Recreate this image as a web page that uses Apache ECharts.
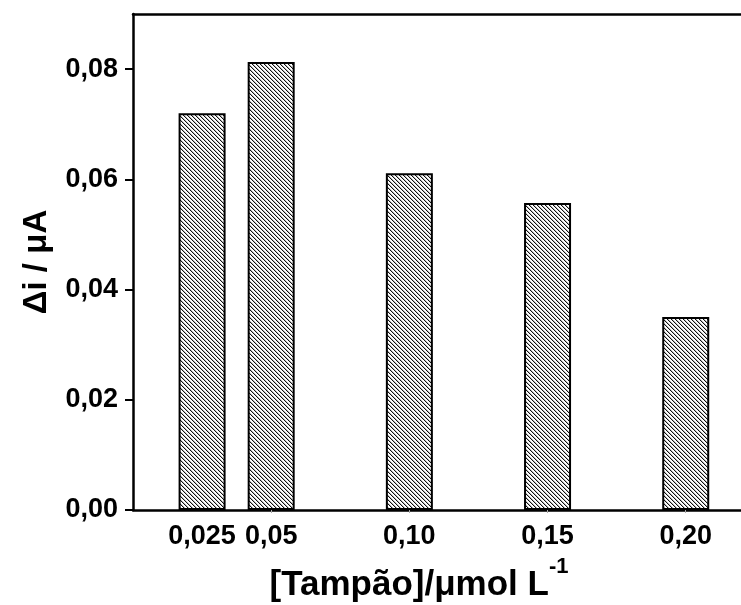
<!DOCTYPE html>
<html>
<head>
<meta charset="utf-8">
<script src="https://cdn.jsdelivr.net/npm/echarts@6/dist/echarts.min.js"></script>
<style>
  html, body { margin: 0; padding: 0; background: #fff; }
  #chart { width: 741px; height: 605px; }
</style>
</head>
<body>
<div id="chart"></div>
<script>
// concentração do tampão (x) e resposta Δi (y)
const concentrations = [0.025, 0.05, 0.10, 0.15, 0.20];
const currents = [0.0720, 0.0813, 0.0611, 0.0557, 0.0350];
const xTickLabels = ['0,025', '0,05', '0,10', '0,15', '0,20'];
const yTicks = [0, 0.02, 0.04, 0.06, 0.08];

const FONT = 'Liberation Sans';

// hachura "\" feita num canvas pequeno
function hatch() {
    const c = document.createElement('canvas');
    c.width = 4; c.height = 4;
    const ctx = c.getContext('2d');
    ctx.fillStyle = '#fff';
    ctx.fillRect(0, 0, 4, 4);
    for (let y = 0; y < 4; y++) {
        for (let x = 0; x < 4; x++) {
            const d = ((x - y) % 4 + 4) % 4;
            if (d === 0) { ctx.fillStyle = '#111'; ctx.fillRect(x, y, 1, 1); }
            else if (d === 1) { ctx.fillStyle = '#bbb'; ctx.fillRect(x, y, 1, 1); }
        }
    }
    return c;
}

const chart = echarts.init(document.getElementById('chart'));
const option = {
    animation: false,
    backgroundColor: '#fff',
    grid: { left: 133, top: 14, right: 0, bottom: 95, outerBoundsMode: 'none' },
    xAxis: [
        {
            type: 'value',
            min: 0,
            max: 0.22,
            splitLine: { show: false },
            axisLine: { lineStyle: { color: '#000', width: 2.5 } },
            axisTick: { show: true, customValues: concentrations.slice(1), length: 3, inside: false, lineStyle: { color: '#aaa', width: 1 } },
            axisLabel: {
                customValues: concentrations,
                formatter: (v) => xTickLabels[concentrations.indexOf(v)] || '',
                color: '#000',
                fontFamily: FONT,
                fontWeight: 'bold',
                fontSize: 27,
                margin: 13
            },
            name: '{m|[Tampão]/μmol L}{s|-1}',
            nameLocation: 'middle',
            nameGap: 46,
            nameTextStyle: {
                padding: [0, 36, 0, 0],
                rich: {
                    m: { fontFamily: FONT, fontWeight: 'bold', fontSize: 35, color: '#000', padding: [12, 0, 0, 0] },
                    s: { fontFamily: FONT, fontWeight: 'bold', fontSize: 22, color: '#000', verticalAlign: 'top', padding: [0, 0, 16, 0] }
                }
            }
        },
        {
            type: 'value',
            position: 'top',
            min: 0,
            max: 0.22,
            splitLine: { show: false },
            axisLine: { show: true, lineStyle: { color: '#000', width: 2.5 } },
            axisTick: { show: false },
            axisLabel: { show: false }
        }
    ],
    yAxis: {
        type: 'value',
        min: 0,
        max: 0.09,
        splitLine: { show: false },
        axisLine: { show: true, lineStyle: { color: '#000', width: 2.5 } },
        axisTick: { show: true, customValues: yTicks, length: 8, lineStyle: { color: '#000', width: 2 } },
        axisLabel: {
            customValues: yTicks,
            formatter: (v) => v.toFixed(2).replace('.', ','),
            color: '#000',
            fontFamily: FONT,
            fontWeight: 'bold',
            fontSize: 27,
            margin: 15
        },
        name: 'Δi / μA',
        nameLocation: 'middle',
        nameGap: 80,
        nameTextStyle: { fontFamily: FONT, fontWeight: 'bold', fontSize: 33, color: '#000' }
    },
    series: [
        {
            type: 'bar',
            xAxisIndex: 0,
            barWidth: 47,
            data: concentrations.map((x, i) => [x, currents[i]]),
            itemStyle: {
                color: { image: hatch(), repeat: 'repeat' },
                borderColor: '#000',
                borderWidth: 2
            }
        }
    ]
};
chart.setOption(option);
</script>
</body>
</html>
